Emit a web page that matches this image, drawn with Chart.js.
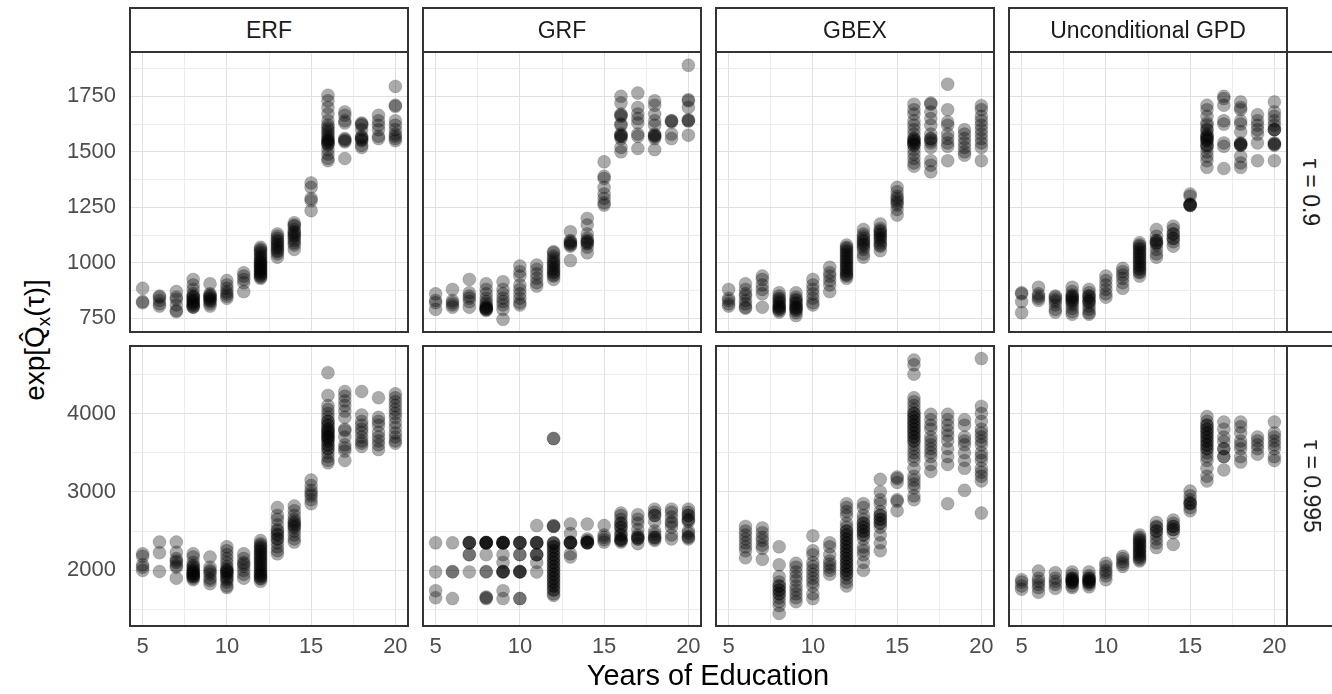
<!DOCTYPE html>
<html>
<head>
<meta charset="utf-8">
<script src="https://cdn.jsdelivr.net/npm/chart.js@4/dist/chart.umd.min.js"></script>
<style>
  body { margin: 0; background: #fff; font-family: "Liberation Sans", Arial, sans-serif; }
  #page { position: relative; width: 1332px; height: 694px; overflow: hidden; background: #fff; }
  canvas { position: absolute; }
  .frame { position: absolute; box-sizing: border-box; border: 2px solid #333; pointer-events: none; }
  .strip { position: absolute; box-sizing: border-box; border: 2px solid #333; background: #fff;
           color: #1a1a1a; font-size: 23px; display: flex; align-items: center; justify-content: center; }
  .strip-r span { transform: rotate(90deg); white-space: nowrap; }
  .title { position: absolute; color: #000; white-space: nowrap; }
</style>
</head>
<body>
<div id="page"></div>
<script>
// années d'éducation (axe x)
const years = [5, 6, 7, 8, 9, 10, 11, 12, 13, 14, 15, 16, 17, 18, 19, 20];
const methods = ['ERF', 'GRF', 'GBEX', 'Unconditional GPD'];
const taus = ['τ = 0.9', 'τ = 0.995'];

const xTicks = [5, 10, 15, 20];
const xMinor = [7.5, 12.5, 17.5];
const yTicksTop = [750, 1000, 1250, 1500, 1750];
const yMinorTop = [875, 1125, 1375, 1625, 1875];
const yTicksBottom = [2000, 3000, 4000];
const yMinorBottom = [1500, 2500, 3500, 4500];

// tau = 0.9 : une liste de valeurs par année
const erfTau90 = [
  [885, 825, 820], [850, 845, 830, 815, 805], [870, 845, 835, 810, 785, 780],
  [925, 900, 880, 860, 850, 845, 845, 835, 830, 825, 820, 815, 810, 805, 800, 800],
  [905, 860, 855, 850, 845, 840, 835, 830, 825, 815, 805],
  [920, 900, 885, 870, 860, 850, 840], [955, 940, 925, 910, 870],
  [1070, 1062, 1055, 1048, 1040, 1032, 1025, 1018, 1010, 1005, 1000, 995, 990, 985, 980, 975, 970, 965, 960, 955, 950, 945, 940, 935, 930],
  [1130, 1120, 1110, 1100, 1095, 1085, 1080, 1070, 1065, 1055, 1050, 1040, 1025],
  [1180, 1170, 1165, 1150, 1140, 1135, 1125, 1120, 1110, 1100, 1090, 1080, 1060],
  [1360, 1340, 1290, 1280, 1235],
  [1755, 1730, 1700, 1670, 1640, 1620, 1610, 1600, 1590, 1580, 1570, 1560, 1555, 1550, 1545, 1540, 1535, 1530, 1510, 1490, 1470, 1460],
  [1680, 1665, 1640, 1630, 1560, 1555, 1550, 1545, 1470],
  [1630, 1625, 1620, 1600, 1570, 1565, 1560, 1555, 1550, 1530, 1520],
  [1665, 1640, 1620, 1600, 1570, 1560], [1795, 1710, 1705, 1640, 1620, 1600, 1580, 1570, 1560, 1550]
];
const grfTau90 = [
  [860, 830, 820, 790], [880, 830, 820, 810, 800], [925, 865, 850, 840, 825, 800],
  [905, 880, 860, 840, 825, 815, 805, 800, 795, 795, 790, 790, 785], [915, 880, 860, 840, 825, 810, 790, 745],
  [985, 960, 940, 900, 880, 860, 840, 820, 810], [990, 970, 950, 930, 910, 895],
  [1050, 1045, 1030, 1020, 1010, 1000, 995, 985, 975, 970, 960, 955, 945, 940, 925],
  [1140, 1100, 1095, 1090, 1085, 1080, 1075, 1010],
  [1200, 1170, 1130, 1110, 1100, 1095, 1090, 1085, 1070, 1045],
  [1455, 1390, 1380, 1340, 1310, 1290, 1270, 1260],
  [1750, 1720, 1670, 1665, 1660, 1625, 1620, 1580, 1575, 1570, 1570, 1560, 1520, 1500],
  [1765, 1700, 1670, 1650, 1630, 1580, 1570, 1515],
  [1730, 1710, 1670, 1640, 1620, 1580, 1575, 1570, 1570, 1560, 1510],
  [1640, 1640, 1635, 1580, 1560], [1890, 1735, 1730, 1700, 1645, 1640, 1640, 1575]
];
const gbexTau90 = [
  [880, 840, 830, 815, 805], [905, 880, 860, 850, 830, 815, 800, 795], [940, 925, 900, 880, 860, 800],
  [865, 850, 840, 835, 825, 820, 810, 805, 800, 795, 790, 785, 778],
  [865, 845, 835, 830, 820, 815, 805, 800, 795, 790, 785, 775, 762],
  [925, 900, 880, 860, 840, 820, 810], [980, 955, 940, 920, 900, 870],
  [1080, 1070, 1065, 1055, 1050, 1040, 1035, 1025, 1020, 1010, 1005, 995, 990, 980, 975, 965, 960, 950, 945, 940, 930],
  [1150, 1130, 1120, 1110, 1100, 1095, 1085, 1080, 1070, 1060, 1040, 1025],
  [1175, 1155, 1145, 1140, 1130, 1125, 1115, 1110, 1100, 1090, 1080, 1075, 1055],
  [1340, 1320, 1300, 1290, 1280, 1270, 1260, 1240, 1215],
  [1715, 1690, 1670, 1640, 1620, 1600, 1580, 1560, 1560, 1550, 1550, 1540, 1540, 1530, 1530, 1510, 1490, 1470, 1450, 1435],
  [1720, 1715, 1680, 1650, 1620, 1580, 1560, 1560, 1550, 1540, 1520, 1460, 1440, 1410],
  [1805, 1690, 1635, 1620, 1580, 1560, 1540, 1525, 1460], [1600, 1580, 1560, 1540, 1520, 1500, 1485],
  [1708, 1690, 1660, 1640, 1620, 1600, 1580, 1560, 1540, 1520, 1460]
];
const gpdTau90 = [
  [865, 860, 825, 775], [890, 860, 850, 840, 830], [850, 845, 835, 825, 810, 790, 778],
  [890, 870, 855, 850, 845, 840, 830, 830, 820, 810, 795, 780, 768],
  [880, 865, 850, 850, 840, 830, 825, 820, 805, 790, 775, 768],
  [940, 920, 900, 880, 860, 845], [975, 960, 945, 930, 910, 885],
  [1090, 1080, 1075, 1065, 1060, 1050, 1045, 1035, 1030, 1020, 1015, 1005, 1000, 990, 985, 975, 970, 960, 955, 940],
  [1150, 1120, 1100, 1100, 1090, 1090, 1080, 1060, 1040, 1025],
  [1165, 1150, 1130, 1130, 1110, 1110, 1095, 1075],
  [1310, 1300, 1265, 1262, 1260, 1260, 1258],
  [1710, 1690, 1660, 1630, 1620, 1600, 1600, 1580, 1570, 1570, 1560, 1560, 1550, 1550, 1530, 1530, 1520, 1500, 1480, 1460, 1430],
  [1750, 1740, 1710, 1640, 1625, 1540, 1525, 1425],
  [1725, 1700, 1690, 1640, 1625, 1590, 1540, 1535, 1535, 1530, 1530, 1480, 1450, 1430],
  [1667, 1640, 1620, 1600, 1580, 1540, 1460],
  [1725, 1680, 1660, 1640, 1620, 1600, 1600, 1600, 1540, 1535, 1535, 1530, 1460]
];

// tau = 0.995
const erfTau995 = [
  [2210, 2180, 2070, 2040, 2000], [2360, 2225, 1985], [2360, 2230, 2150, 2120, 2100, 2060, 2040, 1900],
  [2210, 2170, 2100, 2060, 2050, 2030, 2000, 2000, 1980, 1960, 1960, 1940, 1940, 1920, 1920, 1900, 1880],
  [2170, 2040, 2000, 1980, 1950, 1900, 1870, 1830],
  [2300, 2250, 2200, 2150, 2100, 2050, 2020, 2000, 1990, 1980, 1960, 1950, 1920, 1900, 1880, 1850, 1800, 1780],
  [2210, 2150, 2100, 2080, 2050, 2000, 1950, 1900],
  [2380, 2340, 2320, 2300, 2280, 2260, 2240, 2220, 2200, 2180, 2160, 2140, 2120, 2100, 2080, 2060, 2040, 2020, 2000, 1980, 1960, 1950, 1930, 1920, 1900, 1890, 1860],
  [2800, 2700, 2650, 2580, 2520, 2500, 2460, 2450, 2400, 2400, 2350, 2300, 2250, 2210],
  [2820, 2760, 2700, 2650, 2620, 2600, 2580, 2560, 2540, 2500, 2450, 2400, 2360],
  [3150, 3080, 3020, 2980, 2950, 2900, 2850],
  [4520, 4230, 4100, 4050, 4000, 3950, 3900, 3900, 3850, 3850, 3800, 3800, 3780, 3750, 3750, 3720, 3700, 3700, 3680, 3650, 3650, 3600, 3600, 3550, 3550, 3500, 3450, 3400, 3370],
  [4280, 4220, 4160, 4100, 4030, 3950, 3800, 3780, 3700, 3600, 3560, 3520, 3400],
  [4280, 3980, 3900, 3850, 3800, 3760, 3700, 3650, 3620, 3580],
  [4200, 3950, 3900, 3850, 3760, 3700, 3650, 3600, 3540],
  [4250, 4200, 4150, 4100, 4050, 4000, 3950, 3880, 3820, 3750, 3700, 3650, 3620]
];
const grfTau995 = [
  [2350, 1980, 1740, 1650], [2350, 1985, 1980, 1640], [2355, 2350, 2350, 2350, 2200, 2200, 1980],
  [2355, 2355, 2350, 2350, 2350, 2350, 2200, 1985, 1980, 1660, 1650, 1640],
  [2355, 2355, 2350, 2350, 2350, 2350, 2200, 2100, 1985, 1985, 1980, 1980, 1740, 1640],
  [2355, 2350, 2350, 2350, 2200, 2200, 1985, 1985, 1980, 1980, 1640, 1640],
  [2570, 2355, 2350, 2350, 2350, 2200, 2200, 2200, 2100, 1980],
  [3680, 3680, 2570, 2560, 2560, 2350, 2350, 2340, 2300, 2300, 2250, 2250, 2200, 2200, 2150, 2150, 2100, 2100, 2050, 2050, 2000, 2000, 1950, 1950, 1900, 1900, 1850, 1850, 1800, 1800, 1750, 1750, 1700, 1680],
  [2590, 2470, 2360, 2355, 2350, 2350, 2350, 2210, 2170], [2590, 2400, 2380, 2360, 2360, 2350, 2350, 2350],
  [2570, 2450, 2420, 2390, 2360],
  [2730, 2700, 2650, 2600, 2600, 2550, 2550, 2500, 2450, 2450, 2400, 2400, 2380, 2380, 2360],
  [2710, 2650, 2600, 2520, 2450, 2420, 2420, 2400, 2400, 2340],
  [2780, 2740, 2700, 2700, 2620, 2500, 2460, 2420, 2420, 2400, 2380],
  [2780, 2740, 2680, 2620, 2600, 2550, 2450, 2400],
  [2780, 2740, 2700, 2700, 2650, 2640, 2620, 2500, 2470, 2430, 2420, 2400]
];
const gbexTau995 = [
  [], [2560, 2500, 2450, 2400, 2350, 2300, 2250, 2160], [2540, 2480, 2420, 2380, 2320, 2280, 2140],
  [2300, 2070, 1920, 1850, 1800, 1800, 1750, 1750, 1700, 1700, 1650, 1600, 1550, 1450],
  [2090, 2040, 1980, 1920, 1870, 1800, 1750, 1700, 1650, 1600],
  [2440, 2250, 2200, 2100, 2050, 2000, 1950, 1900, 1850, 1800, 1700, 1640],
  [2350, 2300, 2200, 2120, 2080, 2040, 2000, 1950],
  [2850, 2800, 2750, 2700, 2600, 2550, 2500, 2500, 2450, 2450, 2400, 2400, 2350, 2350, 2300, 2300, 2250, 2250, 2200, 2200, 2150, 2150, 2100, 2100, 2050, 2050, 2000, 2000, 1950, 1950, 1900, 1850, 1800],
  [2850, 2800, 2700, 2650, 2600, 2600, 2550, 2550, 2500, 2500, 2450, 2450, 2400, 2300, 2250, 2200, 2100, 2000],
  [3160, 3000, 2900, 2850, 2750, 2700, 2700, 2650, 2650, 2600, 2600, 2550, 2450, 2350, 2250],
  [3190, 3170, 3120, 2900, 2880, 2760],
  [4680, 4620, 4500, 4200, 4150, 4100, 4050, 4000, 4000, 3950, 3950, 3900, 3900, 3850, 3850, 3800, 3800, 3750, 3750, 3700, 3700, 3650, 3650, 3600, 3550, 3500, 3450, 3400, 3300, 3200, 3150, 3100, 3050, 2950, 2900],
  [3990, 3920, 3850, 3800, 3700, 3650, 3600, 3550, 3500, 3450, 3350, 3260],
  [3990, 3920, 3850, 3780, 3720, 3650, 3550, 3450, 3350, 2850],
  [3920, 3850, 3700, 3650, 3600, 3500, 3400, 3300, 3020],
  [4700, 4090, 4000, 3900, 3800, 3750, 3700, 3650, 3600, 3500, 3450, 3400, 3300, 3250, 3200, 3140, 2730]
];
const gpdTau995 = [
  [1880, 1850, 1800, 1760], [1990, 1900, 1860, 1820, 1780, 1720], [1970, 1900, 1860, 1820, 1770],
  [1980, 1940, 1900, 1900, 1880, 1880, 1860, 1860, 1840, 1840, 1800, 1780],
  [1980, 1930, 1900, 1900, 1880, 1870, 1860, 1850, 1840, 1820, 1790],
  [2090, 2050, 2000, 1970, 1930, 1880], [2180, 2150, 2110, 2080, 2050],
  [2450, 2420, 2400, 2380, 2360, 2340, 2320, 2300, 2280, 2260, 2240, 2220, 2200, 2180, 2160, 2140, 2120],
  [2610, 2560, 2550, 2500, 2500, 2450, 2400, 2350, 2290], [2640, 2600, 2560, 2560, 2520, 2520, 2480, 2330],
  [3010, 2950, 2900, 2860, 2850, 2850, 2800, 2760],
  [3960, 3900, 3850, 3850, 3800, 3800, 3750, 3750, 3700, 3700, 3650, 3650, 3600, 3600, 3550, 3550, 3500, 3450, 3400, 3300, 3200, 3140],
  [3890, 3800, 3700, 3640, 3550, 3550, 3450, 3450, 3280], [3890, 3830, 3750, 3650, 3600, 3550, 3450, 3380],
  [3700, 3650, 3600, 3550, 3480], [3890, 3750, 3700, 3650, 3600, 3550, 3450, 3400]
];

const panelData = [
  [erfTau90, grfTau90, gbexTau90, gpdTau90],
  [erfTau995, grfTau995, gbexTau995, gpdTau995]
];

// mise en page
const colLeft = [130, 423, 716, 1009];
const rowTop = [52, 346];
const plotW = 278, plotH = 280;
const yAxisW = 70, xAxisH = 40;
const rowRange = [[688, 1950], [1290, 4860]];
const rowMajor = [yTicksTop, yTicksBottom];
const rowMinor = [yMinorTop, yMinorBottom];

const page = document.getElementById('page');

function gridColor(majors) {
  return ctx => (ctx.tick && majors.includes(ctx.tick.value)) ? '#e0e0e0' : '#ededed';
}

// pas de marge automatique autour des axes
function noPad(s) {
  s.paddingTop = 0; s.paddingBottom = 0; s.paddingLeft = 0; s.paddingRight = 0;
}

function makePanel(row, col) {
  const vals = panelData[row][col];
  const points = [];
  years.forEach((yr, i) => {
    vals[i].forEach(v => points.push({ x: yr, y: v }));
  });

  const showY = col === 0;
  const showX = row === 1;
  const canvas = document.createElement('canvas');
  canvas.width = plotW + (showY ? yAxisW : 0);
  canvas.height = plotH + (showX ? xAxisH : 0);
  canvas.style.left = (colLeft[col] - (showY ? yAxisW : 0)) + 'px';
  canvas.style.top = rowTop[row] + 'px';
  page.appendChild(canvas);

  const xAll = xTicks.concat(xMinor).sort((a, b) => a - b);
  const yAll = rowMajor[row].concat(rowMinor[row]).sort((a, b) => a - b);

  new Chart(canvas.getContext('2d'), {
    type: 'scatter',
    data: {
      datasets: [{
        data: points,
        pointRadius: 6.5,
        pointHoverRadius: 6.5,
        backgroundColor: 'rgba(0,0,0,0.33)',
        borderColor: 'rgba(0,0,0,0.14)',
        borderWidth: 1
      }]
    },
    options: {
      responsive: false,
      animation: false,
      layout: { padding: 0, autoPadding: false },
      plugins: { legend: { display: false }, tooltip: { enabled: false } },
      scales: {
        x: {
          type: 'linear',
          min: 4.25,
          max: 20.75,
          afterBuildTicks: s => { s.ticks = xAll.map(v => ({ value: v })); },
          afterFit: s => { s.height = showX ? xAxisH : 0; noPad(s); },
          border: { display: false },
          grid: { color: gridColor(xTicks), lineWidth: 1, drawTicks: false },
          ticks: {
            display: showX,
            autoSkip: false,
            maxRotation: 0,
            padding: 8,
            color: '#4d4d4d',
            font: { family: 'Liberation Sans, Arial, sans-serif', size: 22 },
            callback: v => xTicks.includes(v) ? String(v) : ''
          }
        },
        y: {
          type: 'linear',
          min: rowRange[row][0],
          max: rowRange[row][1],
          afterBuildTicks: s => { s.ticks = yAll.map(v => ({ value: v })); },
          afterFit: s => { s.width = showY ? yAxisW : 0; noPad(s); },
          border: { display: false },
          grid: { color: gridColor(rowMajor[row]), lineWidth: 1, drawTicks: false },
          ticks: {
            display: showY,
            autoSkip: false,
            padding: 14,
            color: '#4d4d4d',
            font: { family: 'Liberation Sans, Arial, sans-serif', size: 22 },
            callback: v => rowMajor[row].includes(v) ? String(v) : ''
          }
        }
      }
    }
  });

  // cadre du panneau
  const f = document.createElement('div');
  f.className = 'frame';
  f.style.left = (colLeft[col] - 1) + 'px';
  f.style.top = (rowTop[row] - 1) + 'px';
  f.style.width = (plotW + 2) + 'px';
  f.style.height = (plotH + 2) + 'px';
  page.appendChild(f);
}

for (let r = 0; r < 2; r++) {
  for (let c = 0; c < 4; c++) makePanel(r, c);
}

// bandeaux du haut
methods.forEach((m, c) => {
  const d = document.createElement('div');
  d.className = 'strip';
  d.style.left = (colLeft[c] - 1) + 'px';
  d.style.top = '7px';
  d.style.width = (plotW + 2) + 'px';
  d.style.height = '46px';
  d.textContent = m;
  page.appendChild(d);
});

// bandeaux de droite
taus.forEach((t, r) => {
  const d = document.createElement('div');
  d.className = 'strip strip-r';
  d.style.left = (colLeft[3] + plotW - 1) + 'px';
  d.style.top = (rowTop[r] - 1) + 'px';
  d.style.width = '50px';
  d.style.height = (plotH + 2) + 'px';
  d.innerHTML = '<span>' + t + '</span>';
  page.appendChild(d);
});

// titres des axes
const xt = document.createElement('div');
xt.className = 'title';
xt.style.fontSize = '29px';
xt.style.left = '0px';
xt.style.width = '1416px';
xt.style.textAlign = 'center';
xt.style.top = '659px';
xt.textContent = 'Years of Education';
page.appendChild(xt);

const yt = document.createElement('div');
yt.className = 'title';
yt.style.fontSize = '28px';
yt.style.left = '37px';
yt.style.top = '340px';
yt.style.transform = 'translate(-50%, -50%) rotate(-90deg)';
yt.innerHTML = 'exp[Q\u0302<sub style="font-size:19px">x</sub>(τ)]';
page.appendChild(yt);
</script>
</body>
</html>
